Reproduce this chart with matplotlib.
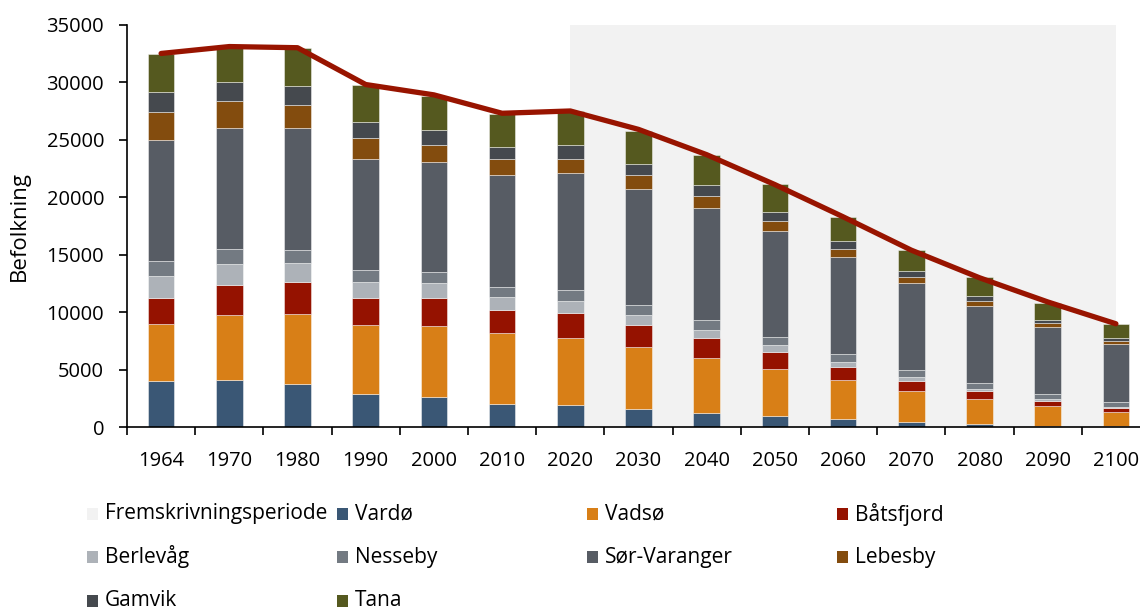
import matplotlib
matplotlib.use("Agg")
import matplotlib.pyplot as plt
from matplotlib.patches import Rectangle
import numpy as np

years = ["1964", "1970", "1980", "1990", "2000", "2010", "2020", "2030",
         "2040", "2050", "2060", "2070", "2080", "2090", "2100"]

vardo = [4000, 4110, 3770, 2930, 2610, 2030, 1940, 1620, 1270, 990, 700, 490, 320, 140, 90]
vadso = [4980, 5620, 6080, 5990, 6200, 6140, 5820, 5330, 4790, 4110, 3390, 2640, 2150, 1710, 1240]
batsfjord = [2260, 2610, 2750, 2350, 2460, 2060, 2210, 1970, 1730, 1480, 1190, 900, 670, 460, 380]
berlevag = [1880, 1850, 1680, 1390, 1250, 1070, 1010, 840, 670, 550, 410, 320, 200, 150, 90]
nesseby = [1360, 1270, 1130, 1010, 980, 870, 930, 870, 870, 750, 700, 640, 550, 460, 410]
sor_varanger = [10520, 10580, 10580, 9670, 9530, 9760, 10170, 10120, 9760, 9160, 8400, 7530, 6690, 5770, 5010]
lebesby = [2400, 2290, 2000, 1770, 1480, 1370, 1270, 1150, 1050, 930, 700, 580, 440, 370, 320]
gamvik = [1740, 1650, 1650, 1420, 1310, 1040, 1160, 1020, 890, 780, 670, 460, 430, 290, 200]
tana = [3330, 3000, 3300, 3190, 2980, 2900, 2950, 2840, 2640, 2410, 2120, 1860, 1620, 1420, 1240]

totalt = [32500, 33100, 33000, 29800, 28900, 27300, 27500, 25900, 23700, 21100, 18300, 15400, 13000, 10900, 9000]

projection_years = ["2020", "2030", "2040", "2050", "2060", "2070", "2080", "2090", "2100"]
projection_level = [35000] * len(projection_years)

series_names = ["Vardø", "Vadsø", "Båtsfjord", "Berlevåg", "Nesseby",
                "Sør-Varanger", "Lebesby", "Gamvik", "Tana"]
series_values = [vardo, vadso, batsfjord, berlevag, nesseby,
                 sor_varanger, lebesby, gamvik, tana]
series_colors = ["#3A5775", "#D87F17", "#951200", "#ADB2B8", "#737A82",
                 "#575C64", "#834C0E", "#45494E", "#55591F"]
shade_name = "Fremskrivningsperiode"
shade_color = "#F2F2F2"
line_color = "#981400"

plt.rcParams['font.family'] = ['Open Sans', 'DejaVu Sans']

fig = plt.figure(figsize=(11.4, 6.12), dpi=100)
ax = fig.add_axes([127/1140, 184.7/612, 1023/1140, 402.6/612])

x = np.arange(len(years))
# projection shading
px = np.array([years.index(y) for y in projection_years])
ax.fill_between(px, 0, projection_level, color=shade_color, lw=0, zorder=0)

bottom = np.zeros(len(years))
for name, vals, col in zip(series_names, series_values, series_colors):
    vals = np.array(vals, dtype=float)
    ax.bar(x, vals, width=0.39, bottom=bottom, color=col,
           edgecolor=(1, 1, 1, 0.45), linewidth=0.7, zorder=2)
    bottom += vals

ax.plot(x, totalt, color=line_color, lw=3.8, solid_capstyle='round',
        solid_joinstyle='round', zorder=3)

ax.set_xlim(-0.5, len(years) - 0.5)
ax.set_ylim(0, 35000)
ax.set_yticks(np.arange(0, 35001, 5000))
ax.set_yticklabels([str(v) for v in range(0, 35001, 5000)])
ax.set_xticks(x)
ax.set_xticklabels(years)
ax.set_xticks(np.arange(-0.5, len(years)), minor=True)
ax.tick_params(axis='x', which='major', length=0, pad=17, labelsize=14.5)
ax.tick_params(axis='x', which='minor', length=6, width=1.2, direction='out')
ax.tick_params(axis='y', which='major', length=5.5, width=1.2, pad=11, labelsize=14.5)

for s in ['top', 'right']:
    ax.spines[s].set_visible(False)
for s in ['left', 'bottom']:
    ax.spines[s].set_linewidth(1.2)
    ax.spines[s].set_color('black')

ax.set_ylabel("Befolkning", fontsize=16)
ax.yaxis.set_label_coords(-0.095, 0.5)

# legend, drawn as a grid of 4 columns
legend_names = [shade_name] + series_names
legend_colors = [shade_color] + series_colors
col_x = [87, 337, 587, 837]
row_y = [514, 557, 601]
for i, (nm, col) in enumerate(zip(legend_names, legend_colors)):
    r, c = divmod(i, 4)
    lx = col_x[c]
    ly = row_y[r]
    fig.add_artist(Rectangle((lx / 1140, 1 - (ly + 6) / 612), 11 / 1140, 12 / 612,
                             transform=fig.transFigure, facecolor=col,
                             edgecolor='none'))
    fig.text((lx + 18) / 1140, 1 - ly / 612, nm, fontsize=15,
             va='center', ha='left')

fig.savefig("out.png", dpi=100)
